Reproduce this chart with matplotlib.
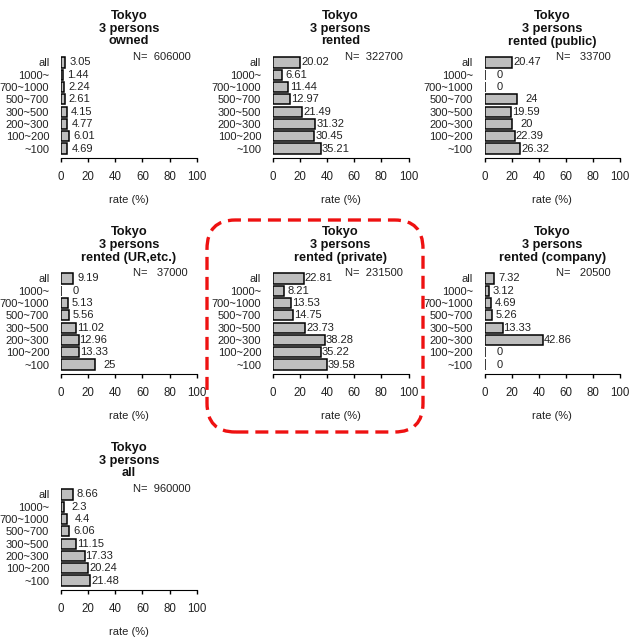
import matplotlib
matplotlib.use("Agg")
import matplotlib.pyplot as plt
from matplotlib.patches import FancyBboxPatch

plt.rcParams['font.family'] = ['Liberation Sans', 'DejaVu Sans']

# income classes, top to bottom as shown
classes = ["all", "1000~", "700~1000", "500~700", "300~500", "200~300", "100~200", "~100"]

# panel titles (third title line) and sample sizes
kinds = ["owned", "rented", "rented (public)", "rented (UR,etc.)",
         "rented (private)", "rented (company)", "all"]
counts = [606000, 322700, 33700, 37000, 231500, 20500, 960000]

# rates (%) per class, same order as classes
owned = [3.05, 1.44, 2.24, 2.61, 4.15, 4.77, 6.01, 4.69]
rented = [20.02, 6.61, 11.44, 12.97, 21.49, 31.32, 30.45, 35.21]
rented_public = [20.47, 0, 0, 24, 19.59, 20, 22.39, 26.32]
rented_ur = [9.19, 0, 5.13, 5.56, 11.02, 12.96, 13.33, 25]
rented_private = [22.81, 8.21, 13.53, 14.75, 23.73, 38.28, 35.22, 39.58]
rented_company = [7.32, 3.12, 4.69, 5.26, 13.33, 42.86, 0, 0]
all_hh = [8.66, 2.3, 4.4, 6.06, 11.15, 17.33, 20.24, 21.48]

series = [owned, rented, rented_public, rented_ur, rented_private, rented_company, all_hh]

W, H = 630, 642
fig = plt.figure(figsize=(W / 100, H / 100), dpi=100)


def fx(x):
    return x / W


def fy(y):
    return 1 - y / H


col_x = [61, 272.8, 484.5]
ax_w = 135.7
fs = 8.0

# bar centres like R barplot (width 1, space 0.2), first value at bottom
pos = [0.7 + 1.2 * i for i in range(8)]

for k, (kind, n, vals) in enumerate(zip(kinds, counts, series)):
    r, c = divmod(k, 3)
    dy = 216 * r
    top, bottom = 53.4 + dy, 157.6 + dy
    ax = fig.add_axes([fx(col_x[c]), fy(bottom), ax_w / W, (bottom - top) / H])
    v = vals[::-1]
    labs = classes[::-1]
    ax.barh(pos, v, height=1.0, color="#bebebe", edgecolor="black", linewidth=1.1)
    for p, val in zip(pos, v):
        ax.text(val + 11, p, f"{val:g}", ha="center", va="center", fontsize=fs,
                color="#222222")
    ax.text(53, 9.62, f"N= {n:>7d}", ha="left", va="center", fontsize=fs,
            color="#222222")
    ax.set_xlim(0, 100)
    ax.set_ylim(-0.176, 9.976)
    ax.set_yticks(pos, labs)
    ax.set_xticks([0, 20, 40, 60, 80, 100])
    ax.tick_params(axis="y", length=0, pad=8.4, labelsize=fs, labelcolor="#222222")
    ax.tick_params(axis="x", length=3, width=1, pad=7, labelsize=fs + 0.3,
                   labelcolor="#222222")
    for s in ["top", "right", "left"]:
        ax.spines[s].set_visible(False)
    ax.patch.set_alpha(0)

    cx = col_x[c] + ax_w / 2
    for line, yy in zip(["Tokyo", "3 persons", kind], [16.5, 29, 41.5]):
        fig.text(fx(cx), fy(yy + dy), line, ha="center", va="center",
                 fontsize=9.2, fontweight="bold", color="#111111")
    fig.text(fx(cx), fy(200 + dy), "rate (%)", ha="center", va="center",
             fontsize=fs, color="#222222")

# highlight around the private-rental panel
box = FancyBboxPatch((fx(207), fy(432)), (423 - 207) / W, (432 - 220) / H,
                     boxstyle="round,pad=0,rounding_size=0.045",
                     transform=fig.transFigure, fill=False, edgecolor="#ee1111",
                     linewidth=2.4, linestyle=(0, (3.9, 2.1)))
fig.patches.append(box)

fig.savefig("out.png", dpi=100)
